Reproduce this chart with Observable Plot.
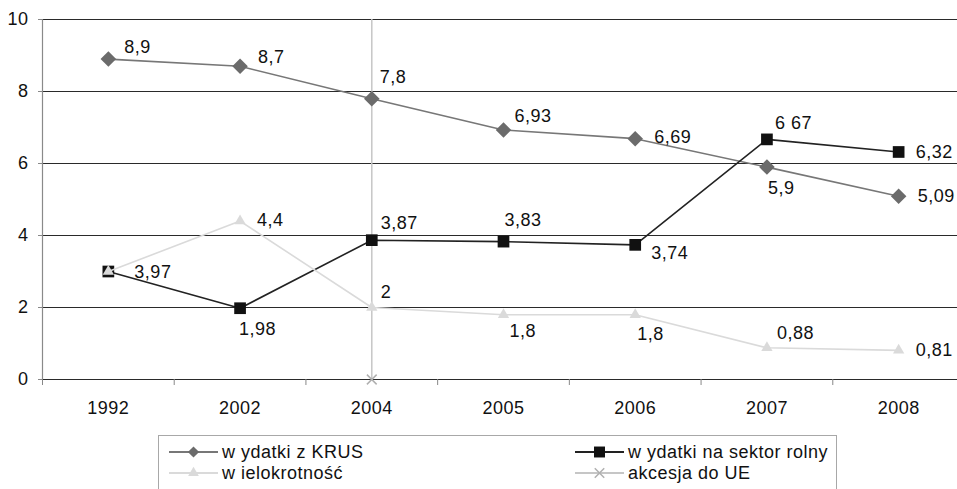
<!DOCTYPE html>
<html><head><meta charset="utf-8">
<script src="https://cdn.jsdelivr.net/npm/d3@7"></script>
<script src="https://cdn.jsdelivr.net/npm/@observablehq/plot@0.6"></script>
<style>
body{margin:0;background:#fff;font-family:"Liberation Sans",Arial,sans-serif;}
#chart{position:relative;width:957px;height:489px;overflow:hidden;background:#fff;}
#chart svg text{letter-spacing:0.5px;}
#legend{position:absolute;left:158px;top:435px;}
</style></head><body><div id="chart"></div>
<script>
// ---- data ----
const years = ["1992","2002","2004","2005","2006","2007","2008"];
const krus = [8.9, 8.7, 7.8, 6.93, 6.69, 5.9, 5.09];
const krusLabels = ["8,9","8,7","7,8","6,93","6,69","5,9","5,09"];
const sektor = [3.0, 1.98, 3.87, 3.83, 3.74, 6.67, 6.32];
const sektorLabels = ["3,97","1,98","3,87","3,83","3,74","6 67","6,32"];
const wielo = [3.0, 4.4, 2.0, 1.8, 1.8, 0.88, 0.81];
const wieloLabels = [null,"4,4","2","1,8","1,8","0,88","0,81"];
const akcesjaYear = "2004";
const akcesja = [0, 10];
const yTicks = [0, 2, 4, 6, 8, 10];
const seriesNames = ["w ydatki z KRUS","w ydatki na sektor rolny","w ielokrotność","akcesja do UE"];

// ---- layout / style ----
const idx = years.map((_, i) => i);
const bounds = d3.range(years.length + 1).map(i => i - 0.5);
const aIdx = years.indexOf(akcesjaYear);
const FONT = "Liberation Sans, Arial, sans-serif";
const FS = 18;
const C = {krus:"#6b6b6b", krusLine:"#777", sektor:"#111", wielo:"#dadada", akc:"#c6c6c6"};

// label offsets [dx, dy] (text-anchor start)
const offKrus = [[16,-12],[18,-9],[8,-21],[11,-14],[19,-1],[1,21],[19,0]];
const offSektor = [[26,1],[-1,21],[9,-17],[1,-21],[16,8],[8,-16],[17,0]];
const offWielo = [null,[17,-1],[9,-15],[6,17],[2,20],[10,-15],[17,0]];

function labels(vals, texts, offs) {
  return idx.filter(i => texts[i] != null).map(i =>
    Plot.text([i], {x: d => d, y: d => vals[d], text: d => texts[d],
      dx: offs[i][0], dy: offs[i][1], textAnchor: "start", fill: "#111",
      fontSize: FS}));
}

const plot = Plot.plot({
  width: 957, height: 425,
  marginLeft: 42, marginRight: -7, marginTop: 19, marginBottom: 46,
  style: {fontFamily: FONT, fontSize: FS + "px", color: "#111", background: "#fff"},
  x: {type: "linear", domain: [-0.5, years.length - 0.5]},
  y: {domain: [0, 10]},
  marks: [
    Plot.ruleY(yTicks, {stroke: "#2a2a2a", strokeWidth: 1}),
    Plot.ruleX([-0.5], {stroke: "#8a8a8a", strokeWidth: 1.2}),
    Plot.axisY({ticks: yTicks, tickSize: 4, tickPadding: 10, stroke: "#888", fill: "#111", fontSize: FS, label: null}),
    Plot.axisX({ticks: bounds, tickSize: 6, tickFormat: () => "", stroke: "#888", label: null}),
    Plot.axisX({ticks: idx, tickSize: 0, tickPadding: 22, tickFormat: i => years[i], fill: "#111", fontSize: FS, label: null}),
    // akcesja do UE (vertical)
    Plot.line(akcesja, {x: () => aIdx, y: d => d, stroke: C.akc, strokeWidth: 1.5}),
    Plot.dot([akcesja[0]], {x: () => aIdx, y: d => d, symbol: "times", r: 4.5, stroke: "#b0b0b0", strokeWidth: 1.5}),
    // KRUS
    Plot.line(idx, {x: d => d, y: d => krus[d], stroke: C.krusLine, strokeWidth: 1.6}),
    Plot.dot(idx, {x: d => d, y: d => krus[d], symbol: "diamond2", r: 7, fill: C.krus, stroke: "none"}),
    // sektor rolny
    Plot.line(idx, {x: d => d, y: d => sektor[d], stroke: "#222", strokeWidth: 1.6}),
    Plot.dot(idx, {x: d => d, y: d => sektor[d], symbol: "square", r: 6.6, fill: C.sektor, stroke: "none"}),
    // wielokrotność
    Plot.line(idx, {x: d => d, y: d => wielo[d], stroke: C.wielo, strokeWidth: 1.6}),
    Plot.dot(idx, {x: d => d, y: d => wielo[d], symbol: "triangle", r: 4.2, fill: C.wielo, stroke: "none"}),
    ...labels(krus, krusLabels, offKrus),
    ...labels(sektor, sektorLabels, offSektor),
    ...labels(wielo, wieloLabels, offWielo)
  ]
});
document.getElementById("chart").appendChild(plot);

// ---- legend ----
const lw = 679, lh = 60;
const leg = d3.select("#chart").append("svg").attr("id", "legend")
  .attr("width", lw).attr("height", lh);
leg.append("rect").attr("x", 0.5).attr("y", 0.5).attr("width", lw - 1).attr("height", lh - 1)
  .attr("fill", "#fff").attr("stroke", "#a8a8a8");
const items = [
  {name: seriesNames[0], col: 0, row: 0, line: C.krusLine, sym: d3.symbolDiamond2, size: 80, fill: C.krus},
  {name: seriesNames[1], col: 1, row: 0, line: "#222", sym: d3.symbolSquare, size: 120, fill: C.sektor},
  {name: seriesNames[2], col: 0, row: 1, line: C.wielo, sym: d3.symbolTriangle, size: 50, fill: C.wielo},
  {name: seriesNames[3], col: 1, row: 1, line: C.akc, sym: d3.symbolTimes, size: 60, stroke: "#b0b0b0"}
];
const colX = [11, 417], rowY = [17, 38];
items.forEach(it => {
  const g = leg.append("g").attr("transform", `translate(${colX[it.col]},${rowY[it.row]})`);
  g.append("line").attr("x1", 0).attr("x2", 49).attr("y1", 0).attr("y2", 0)
    .attr("stroke", it.line).attr("stroke-width", 2);
  g.append("path").attr("d", d3.symbol(it.sym, it.size)()).attr("transform", "translate(24.5,0)")
    .attr("fill", it.fill || "none").attr("stroke", it.stroke || "none").attr("stroke-width", 1.5);
  g.append("text").attr("x", 53).attr("y", 0).attr("dy", "0.35em")
    .attr("font-family", FONT).attr("font-size", FS).attr("fill", "#111").text(it.name);
});
</script></body></html>
